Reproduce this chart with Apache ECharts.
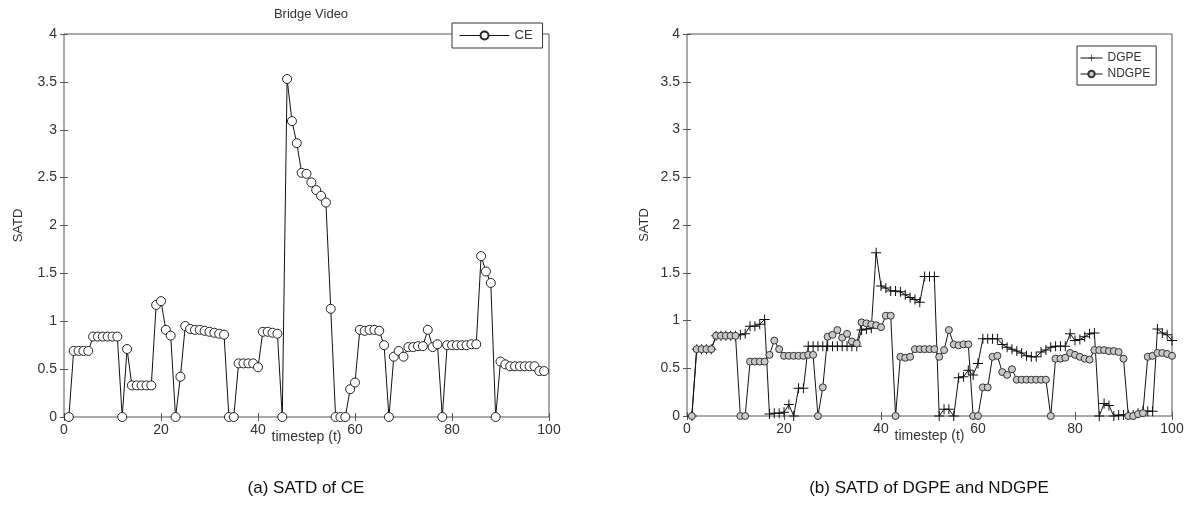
<!DOCTYPE html>
<html>
<head>
<meta charset="utf-8">
<script src="https://cdn.jsdelivr.net/npm/echarts@6/dist/echarts.min.js"></script>
<style>
  html, body { margin: 0; padding: 0; background: #fff; }
  #chart { width: 1190px; height: 509px; }
</style>
</head>
<body>
<div id="chart"></div>
<script>
// SATD per timestep, CE estimator (timesteps 1..99)
const ceSATD = [
  0, 0.69, 0.69, 0.69, 0.69, 0.84, 0.84, 0.84, 0.84, 0.84,
  0.84, 0, 0.71, 0.33, 0.33, 0.33, 0.33, 0.33, 1.17, 1.21,
  0.91, 0.85, 0, 0.42, 0.95, 0.92, 0.91, 0.91, 0.90, 0.89,
  0.88, 0.87, 0.86, 0, 0, 0.56, 0.56, 0.56, 0.56, 0.52,
  0.89, 0.89, 0.88, 0.87, 0, 3.53, 3.09, 2.86, 2.55, 2.54,
  2.45, 2.37, 2.31, 2.24, 1.13, 0, 0, 0, 0.29, 0.36,
  0.91, 0.90, 0.91, 0.91, 0.90, 0.75, 0, 0.63, 0.69, 0.63,
  0.73, 0.73, 0.74, 0.74, 0.91, 0.73, 0.76, 0, 0.75, 0.75,
  0.75, 0.75, 0.75, 0.76, 0.76, 1.68, 1.52, 1.40, 0, 0.58,
  0.55, 0.53, 0.53, 0.53, 0.53, 0.53, 0.53, 0.48, 0.48
];

// SATD per timestep, DGPE and NDGPE estimators (timesteps 1..100)
const dgpeSATD = [
  0, 0.70, 0.70, 0.70, 0.70, 0.84, 0.84, 0.84, 0.84, 0.84,
  0.85, 0.86, 0.94, 0.94, 0.96, 1.01, 0.02, 0.03, 0.03, 0.04,
  0.12, 0, 0.29, 0.29, 0.73, 0.73, 0.73, 0.73, 0.73, 0.73,
  0.73, 0.73, 0.73, 0.73, 0.73, 0.90, 0.91, 0.92, 1.71, 1.36,
  1.34, 1.31, 1.31, 1.30, 1.27, 1.24, 1.22, 1.19, 1.46, 1.46,
  1.46, 0, 0.07, 0.07, 0, 0.40, 0.41, 0.48, 0.43, 0.55,
  0.81, 0.81, 0.81, 0.81, 0.75, 0.72, 0.70, 0.68, 0.66, 0.63,
  0.62, 0.62, 0.67, 0.69, 0.72, 0.73, 0.73, 0.73, 0.86, 0.79,
  0.80, 0.83, 0.86, 0.87, 0, 0.13, 0.11, 0, 0.01, 0.01,
  0.01, 0.01, 0.03, 0.05, 0.05, 0.05, 0.91, 0.87, 0.85, 0.79
];
const ndgpeSATD = [
  0, 0.70, 0.70, 0.70, 0.70, 0.84, 0.84, 0.84, 0.84, 0.84,
  0, 0, 0.57, 0.57, 0.57, 0.57, 0.64, 0.79, 0.70, 0.63,
  0.63, 0.63, 0.63, 0.63, 0.64, 0.64, 0, 0.30, 0.83, 0.85,
  0.90, 0.82, 0.86, 0.78, 0.76, 0.98, 0.97, 0.96, 0.95, 0.93,
  1.05, 1.05, 0, 0.62, 0.61, 0.62, 0.70, 0.70, 0.70, 0.70,
  0.70, 0.62, 0.69, 0.90, 0.75, 0.74, 0.75, 0.75, 0, 0,
  0.30, 0.30, 0.62, 0.63, 0.46, 0.43, 0.49, 0.38, 0.38, 0.38,
  0.38, 0.38, 0.38, 0.38, 0, 0.60, 0.60, 0.61, 0.66, 0.64,
  0.62, 0.60, 0.59, 0.69, 0.69, 0.69, 0.68, 0.68, 0.67, 0.60,
  0, 0, 0.02, 0.03, 0.62, 0.63, 0.66, 0.66, 0.65, 0.63
];

const xTicks = [0, 20, 40, 60, 80, 100];
const yTicks = [0, 0.5, 1, 1.5, 2, 2.5, 3, 3.5, 4];

const titleText = 'Bridge Video';
const xName = 'timestep (t)';
const yName = 'SATD';
const captionA = '(a) SATD of CE';
const captionB = '(b) SATD of DGPE and NDGPE';

// pair each value with its timestep (1-based)
const withSteps = arr => arr.map((v, i) => [i + 1, v]);

const FONT = 'Liberation Sans, Arial, sans-serif';
const INK = '#333';
const FRAME = '#555';

const plusPath = 'path://M-0.5,-5 h1 v4.5 h4.5 v1 h-4.5 v4.5 h-1 v-4.5 h-4.5 v-1 h4.5 z';

function xAxisFor(grid, main) {
  return {
    type: 'value', gridIndex: grid,
    position: main ? 'bottom' : 'top',
    min: xTicks[0], max: xTicks[xTicks.length - 1], interval: 20,
    name: main ? xName : '', nameLocation: 'middle', nameGap: 13,
    nameMoveOverlap: false,
    nameTextStyle: { fontFamily: FONT, fontSize: 14, color: INK },
    axisLine: { show: false },
    axisTick: { show: true, inside: true, length: 4, lineStyle: { color: FRAME } },
    axisLabel: { show: main, fontFamily: FONT, fontSize: 14, color: INK, margin: 6 },
    splitLine: { show: false }
  };
}
function yAxisFor(grid, main, gap) {
  return {
    type: 'value', gridIndex: grid,
    position: main ? 'left' : 'right',
    min: yTicks[0], max: yTicks[yTicks.length - 1], interval: 0.5,
    name: main ? yName : '', nameLocation: 'middle', nameGap: gap,
    nameMoveOverlap: false,
    nameTextStyle: { fontFamily: FONT, fontSize: 13, color: INK },
    axisLine: { show: false },
    axisTick: { show: true, inside: true, length: 4, lineStyle: { color: FRAME } },
    axisLabel: { show: main, fontFamily: FONT, fontSize: 14, color: INK, margin: 7 },
    splitLine: { show: false }
  };
}

const chart = echarts.init(document.getElementById('chart'), null, { renderer: 'canvas' });

chart.setOption({
  backgroundColor: '#fff',
  animation: false,
  title: [{
    text: titleText, left: 306, top: 3, textAlign: 'center',
    textStyle: { fontFamily: FONT, fontSize: 13, fontWeight: 'normal', color: INK }
  }],
  grid: [
    { left: 64, right: 641, top: 34, bottom: 92, show: true, borderColor: FRAME, borderWidth: 1, backgroundColor: '#fff' },
    { left: 687, right: 18, top: 34, bottom: 93, show: true, borderColor: FRAME, borderWidth: 1, backgroundColor: '#fff' }
  ],
  xAxis: [xAxisFor(0, true), xAxisFor(0, false), xAxisFor(1, true), xAxisFor(1, false)],
  yAxis: [yAxisFor(0, true, 39), yAxisFor(0, false, 0), yAxisFor(1, true, 36), yAxisFor(1, false, 0)],
  legend: [
    {
      data: ['CE'], left: 452, top: 23, orient: 'horizontal',
      backgroundColor: '#fff', borderColor: '#333', borderWidth: 1,
      padding: [6, 10, 6, 7], itemWidth: 50, itemHeight: 10, itemGap: 5,
      lineStyle: { width: 1 },
      textStyle: { fontFamily: FONT, fontSize: 13, color: INK }
    },
    {
      data: ['DGPE', 'NDGPE'], left: 1077, top: 46, orient: 'vertical',
      backgroundColor: '#fff', borderColor: '#333', borderWidth: 1,
      padding: [6, 6, 5, 3], itemWidth: 22, itemHeight: 8, itemGap: 4,
      lineStyle: { width: 1 },
      textStyle: { fontFamily: FONT, fontSize: 12, color: INK }
    }
  ],
  series: [
    {
      name: 'CE', type: 'line', xAxisIndex: 0, yAxisIndex: 0,
      data: withSteps(ceSATD),
      symbol: 'circle', symbolSize: 9, showAllSymbol: true,
      lineStyle: { color: '#111', width: 1 },
      itemStyle: { color: '#fff', borderColor: '#222', borderWidth: 1 }
    },
    {
      name: 'DGPE', type: 'line', xAxisIndex: 2, yAxisIndex: 2,
      data: withSteps(dgpeSATD),
      symbol: plusPath, symbolSize: 10, showAllSymbol: true,
      lineStyle: { color: '#111', width: 1 },
      itemStyle: { color: '#111' }
    },
    {
      name: 'NDGPE', type: 'line', xAxisIndex: 2, yAxisIndex: 2,
      data: withSteps(ndgpeSATD),
      symbol: 'circle', symbolSize: 7, showAllSymbol: true,
      lineStyle: { color: '#111', width: 1 },
      itemStyle: { color: '#c8c8c8', borderColor: '#333', borderWidth: 1 }
    }
  ],
  graphic: [
    {
      type: 'text', x: 306, y: 480,
      style: { text: captionA, fontFamily: FONT, fontSize: 17, fill: '#111', textAlign: 'center' }
    },
    {
      type: 'text', x: 929, y: 480,
      style: { text: captionB, fontFamily: FONT, fontSize: 17, fill: '#111', textAlign: 'center' }
    }
  ]
});
</script>
</body>
</html>
